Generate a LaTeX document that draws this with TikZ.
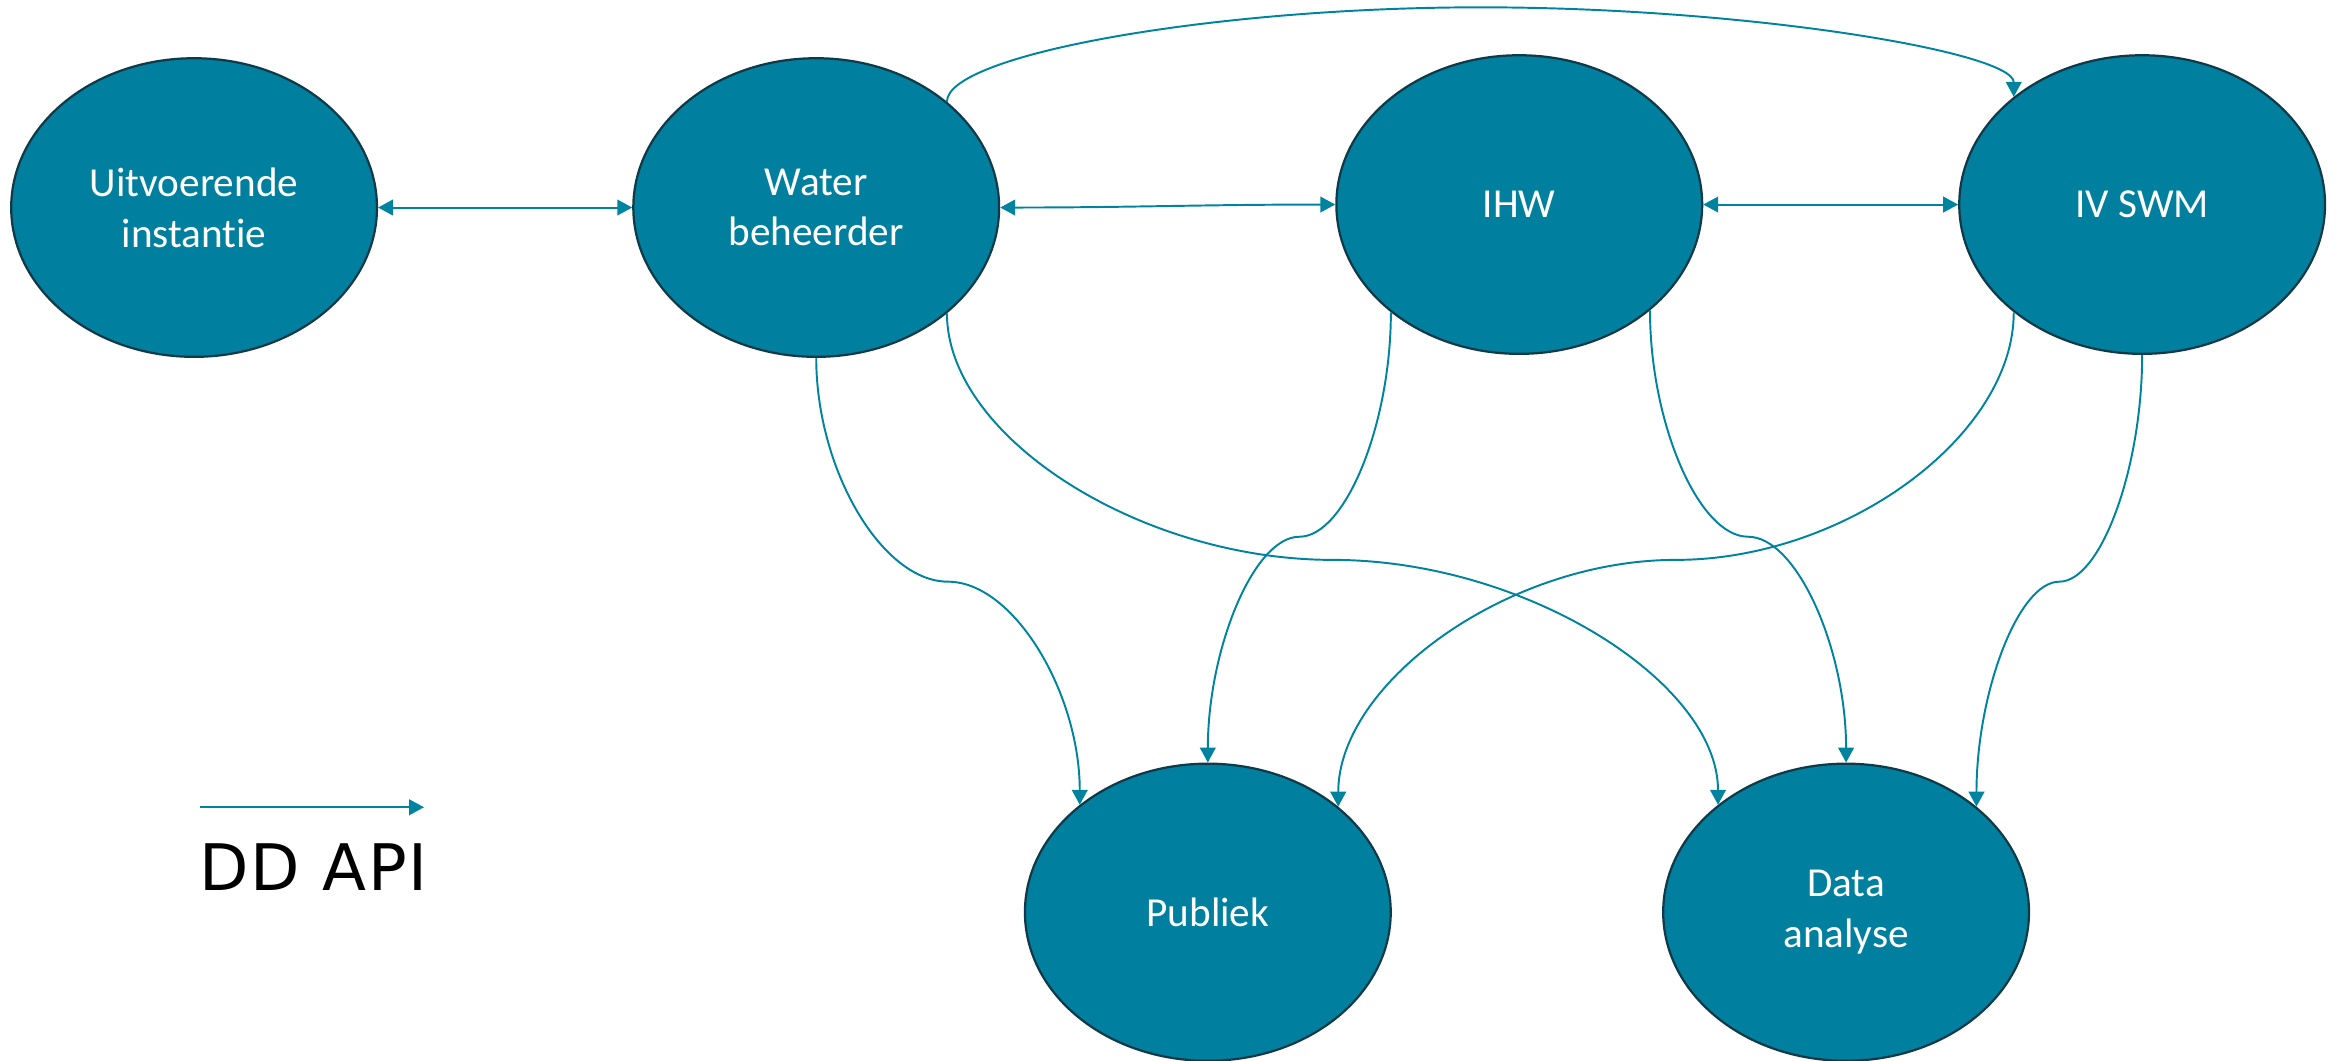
\documentclass[tikz,border=0pt]{standalone}
\usepackage{fontspec}
\setmainfont{Carlito}[Ligatures=NoCommon]
\newfontfamily\legendfont{DejaVu Sans}[LetterSpace=3]
\usetikzlibrary{arrows.meta,calc,shapes.geometric}
\definecolor{ellfill}{RGB}{0,128,158}
\definecolor{elldraw}{RGB}{16,58,72}
\definecolor{connc}{RGB}{0,131,158}
\tikzset{
  ent/.style={ellipse, draw=elldraw, line width=1.5pt, fill=ellfill,
    minimum width=245pt, minimum height=200pt, inner sep=0pt, text=white,
    align=center, font=\fontsize{27.6}{34}\selectfont},
  ctip/.tip={Triangle[length=10pt,width=10.5pt]},
  conn/.style={draw=connc, line width=1.3pt, -ctip},
  dconn/.style={draw=connc, line width=1.3pt, ctip-ctip},
}
\newcommand\curvconn[3]{%
  \draw[conn] let \p1=(#1), \p2=(#2), \p3=(0,#3) in
    (\p1) .. controls (\x1,{0.5*\y1+0.5*\y3}) and ({0.75*\x1+0.25*\x2},\y3) ..
    ({0.5*\x1+0.5*\x2},\y3) .. controls ({0.25*\x1+0.75*\x2},\y3) and (\x2,{0.5*\y3+0.5*\y2}) .. (\p2);
}
\begin{document}
\begin{tikzpicture}[x=1pt,y=-1pt]
\useasboundingbox (0,0) rectangle (1568,710.6);
\node[ent] (U) at (130,139) {Uitvoerende\\instantie};
\node[ent] (W) at (546.7,139) {Water\\beheerder};
\node[ent] (I) at (1017.6,137) {IHW};
\node[ent] (S) at (1434.8,137) {IV SWM};
\node[ent, minimum height=199pt] (P) at (809,611) {Publiek};
\node[ent, minimum height=199pt] (D) at (1236.5,611) {Data\\analyse};

\draw[dconn] (U.east) -- (W.west);
\draw[dconn] (W.east) to[out=0,in=180] (I.west);
\draw[dconn] (I.east) -- (S.west);

\curvconn{W.39.23}{S.140.77}{4.9}
\curvconn{W.south}{P.140.91}{389.6}
\curvconn{W.-39.23}{D.140.91}{375}
\curvconn{I.-140.77}{P.north}{359.5}
\curvconn{I.-39.23}{D.north}{359.5}
\curvconn{S.-140.77}{P.39.09}{375}
\curvconn{S.south}{D.39.09}{389.6}

\coordinate (la) at (134,540.7);
\coordinate (lb) at (284,540.7);
\draw[conn] (la) -- (lb);
\node[font=\legendfont\fontsize{43}{50}\selectfont, inner sep=0pt] (leg) at (210,580.5) {DD API};
\end{tikzpicture}
\end{document}
